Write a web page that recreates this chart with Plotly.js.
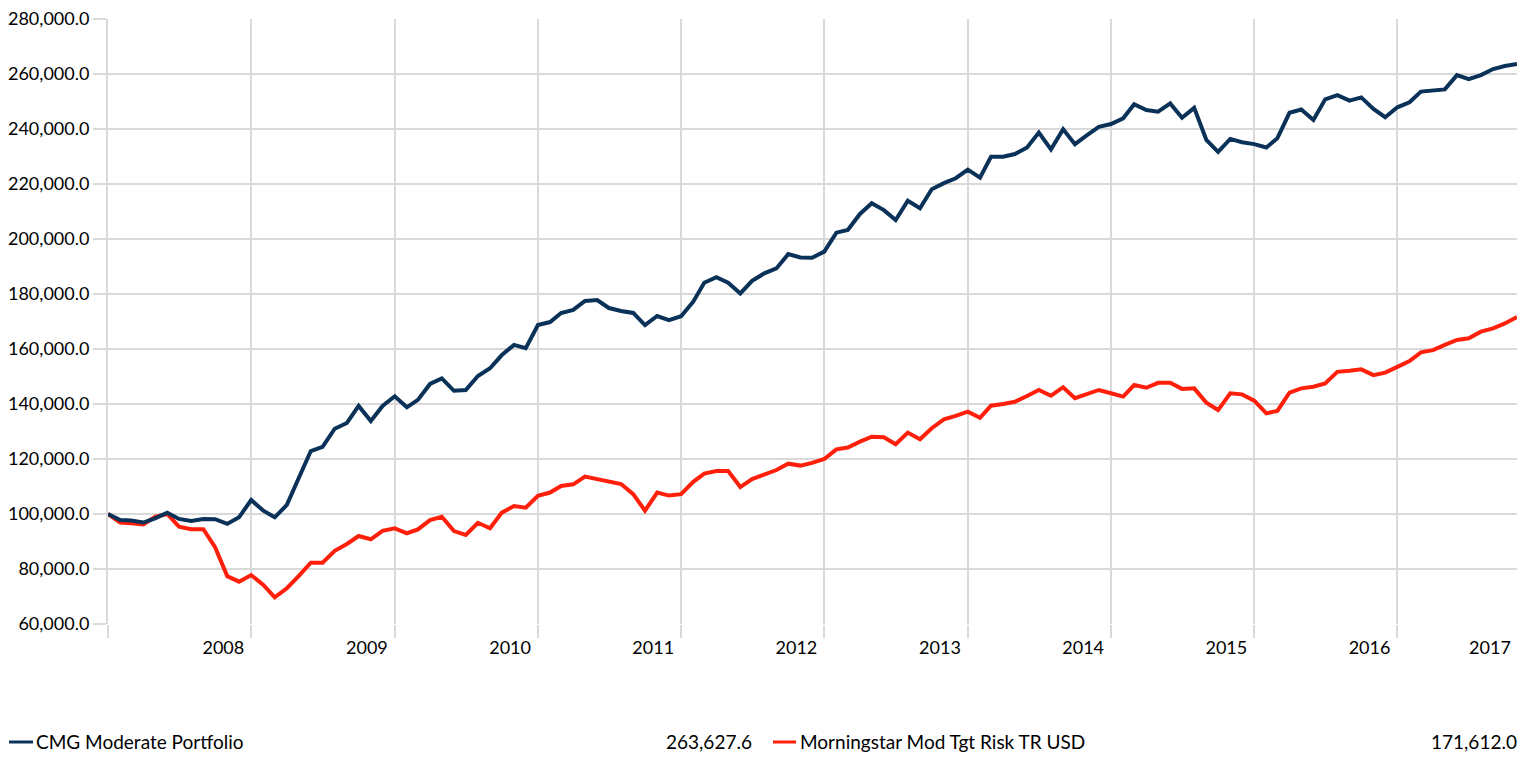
<!DOCTYPE html>
<html>
<head>
<meta charset="utf-8">
<script src="https://cdn.plot.ly/plotly-3.0.1.min.js"></script>
<style>html,body{margin:0;padding:0;background:#fff;}#chart{width:1518px;height:757px;}</style>
</head>
<body>
<div id="chart"></div>
<script>
// Month-end series, monthly from 2007-01 (119 points)
const startYear = 2007;
const nPoints = 119;
const months = [];
for (let k = 0; k < nPoints; k++) {
  const y = startYear + Math.floor(k / 12);
  const m = (k % 12) + 1;
  months.push(y + '-' + (m < 10 ? '0' + m : m) + '-01');
}

const seriesNames = ['CMG Moderate Portfolio', 'Morningstar Mod Tgt Risk TR USD'];
const finalValues = ['263,627.6', '171,612.0'];

const cmgValues = [
  100000, 97800, 97600, 96900, 98400, 100500, 98200, 97500, 98200, 98100, 96400, 98800,
  105100, 101200, 98800, 103300, 113000, 122900, 124400, 131000, 133100, 139300, 133800, 139300,
  142800, 138800, 141500, 147300, 149300, 144800, 145100, 150200, 153000, 157800, 161500, 160300,
  168700, 169800, 173100, 174200, 177500, 177800, 174900, 173800, 173100, 168700, 172000, 170500,
  171900, 177200, 184100, 186100, 184100, 180200, 184800, 187500, 189300, 194500, 193300, 193200,
  195400, 202300, 203300, 209100, 213000, 210500, 206900, 213900, 211200, 218100, 220300, 222100,
  225200, 222300, 229900, 229900, 230900, 233300, 238700, 232600, 239900, 234500, 237800, 240800,
  241800, 243900, 249000, 246900, 246300, 249300, 244100, 247700, 236000, 231700, 236400, 235200,
  234500, 233300, 236600, 245900, 247100, 243300, 250800, 252300, 250300, 251500, 247300, 244300,
  247900, 249700, 253600, 253900, 254400, 259600, 258100, 259600, 261800, 262900, 263627.6
];

const morningstarValues = [
  100000, 96900, 96600, 96200, 99000, 100000, 95400, 94500, 94500, 87900, 77400, 75400,
  77800, 74200, 69700, 73000, 77400, 82300, 82300, 86600, 89100, 92000, 90800, 93900,
  94800, 93000, 94400, 97800, 99000, 93800, 92400, 96800, 94800, 100500, 102900, 102300,
  106600, 107800, 110200, 110800, 113600, 112700, 111500, 110900, 107200, 101200, 107800, 106700,
  107200, 111700, 114700, 115600, 115600, 109800, 112700, 114200, 116000, 118300, 117600, 118600,
  120000, 123500, 124200, 126300, 128100, 127900, 125400, 129600, 127200, 131200, 134400, 135700,
  137200, 135000, 139400, 140000, 140800, 142900, 145100, 143000, 146100, 142100, 143500, 145100,
  143900, 142700, 146900, 145900, 147700, 147700, 145500, 145700, 140500, 137800, 143900, 143500,
  141200, 136600, 137500, 144100, 145700, 146300, 147500, 151700, 152100, 152600, 150500, 151400,
  153500, 155600, 158800, 159600, 161500, 163300, 163900, 166300, 167500, 169300, 171612.0
];

const gridYears = ['2007-01-01','2008-01-01','2009-01-01','2010-01-01','2011-01-01','2012-01-01','2013-01-01','2014-01-01','2015-01-01','2016-01-01'];
const yearLabels = ['2008','2009','2010','2011','2012','2013','2014','2015','2016','2017'];
const yearLabelPos = ['2007-10-22','2008-10-22','2009-10-22','2010-10-22','2011-10-22','2012-10-22','2013-10-22','2014-10-22','2015-10-22','2016-08-24'];

const colors = ['#0a3158', '#ff1f0a'];
const gridColor = '#d9d9d9';
const FONT = 'Lato, "Open Sans", sans-serif';

const W = 1518, H = 757;
const M = {l: 108, r: 1, t: 19, b: 133};
const pw = W - M.l - M.r, ph = H - M.t - M.b;
const px = v => (v - M.l) / pw;
const py = v => (H - M.b - v) / ph;

const xRange = [months[0], months[months.length - 1]];

const traces = [
  {x: months, y: morningstarValues, name: seriesNames[1], type: 'scatter', mode: 'lines',
   line: {color: colors[1], width: 4}, xaxis: 'x', yaxis: 'y', hoverinfo: 'skip'},
  {x: months, y: cmgValues, name: seriesNames[0], type: 'scatter', mode: 'lines',
   line: {color: colors[0], width: 4}, xaxis: 'x2', yaxis: 'y', hoverinfo: 'skip'}
];

const legY = 742;
const shapes = [
  {type: 'line', xref: 'paper', yref: 'paper', x0: px(9), x1: px(33), y0: py(legY), y1: py(legY), line: {color: colors[0], width: 3}},
  {type: 'line', xref: 'paper', yref: 'paper', x0: px(773), x1: px(796), y0: py(legY), y1: py(legY), line: {color: colors[1], width: 3}}
];
const annFont = {family: FONT, size: 19, color: '#000'};
const annotations = [
  {xref: 'paper', yref: 'paper', x: px(34), y: py(legY), xanchor: 'left', yanchor: 'middle', text: seriesNames[0], showarrow: false, font: annFont},
  {xref: 'paper', yref: 'paper', x: px(754), y: py(legY), xanchor: 'right', yanchor: 'middle', text: finalValues[0], showarrow: false, font: annFont},
  {xref: 'paper', yref: 'paper', x: px(798), y: py(legY), xanchor: 'left', yanchor: 'middle', text: seriesNames[1], showarrow: false, font: annFont},
  {xref: 'paper', yref: 'paper', x: px(1519), y: py(legY), xanchor: 'right', yanchor: 'middle', text: finalValues[1], showarrow: false, font: annFont}
];

const layout = {
  width: W, height: H,
  margin: M,
  paper_bgcolor: '#fff', plot_bgcolor: '#fff',
  showlegend: false,
  font: {family: FONT, size: 18, color: '#000'},
  xaxis: {
    type: 'date', range: xRange, tickmode: 'array', tickvals: gridYears,
    showticklabels: false, ticks: 'outside', ticklen: 13, tickwidth: 2, tickcolor: gridColor,
    showgrid: true, gridcolor: gridColor, gridwidth: 2, zeroline: false, showline: false
  },
  xaxis2: {
    type: 'date', range: xRange, overlaying: 'x', anchor: 'y', side: 'bottom',
    tickmode: 'array', tickvals: yearLabelPos, ticktext: yearLabels,
    ticks: 'outside', ticklen: 7, tickcolor: 'rgba(0,0,0,0)',
    showgrid: false, zeroline: false, showline: false,
    tickfont: {family: FONT, size: 18, color: '#000'}
  },
  yaxis: {
    range: [60000, 280000], tick0: 0, dtick: 20000, tickformat: ',.1f',
    ticks: 'outside', ticklen: 13, tickwidth: 2, tickcolor: gridColor,
    showgrid: true, gridcolor: gridColor, gridwidth: 2, zeroline: false,
    showline: true, linecolor: gridColor, linewidth: 2, mirror: false,
    tickfont: {family: FONT, size: 18, color: '#000'}
  },
  shapes: shapes,
  annotations: annotations
};

Plotly.newPlot('chart', traces, layout, {displayModeBar: false, staticPlot: true});
</script>
</body>
</html>
